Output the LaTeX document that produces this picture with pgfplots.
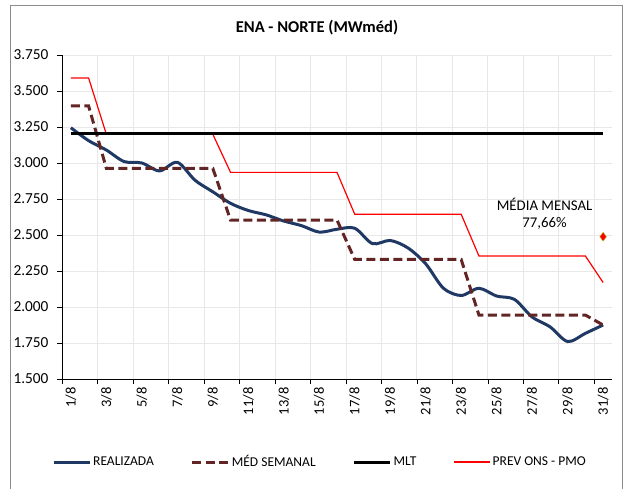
\documentclass[border=0pt]{standalone}
\usepackage{fontspec}
\setmainfont{Carlito}
\usepackage{pgfplots}
\pgfplotsset{compat=1.18}
\definecolor{realblue}{HTML}{1F3864}
\definecolor{medbrown}{HTML}{632523}
\definecolor{gridgray}{HTML}{E8E8E8}
\definecolor{bordergray}{HTML}{8C8C8C}
\begin{document}
\begin{tikzpicture}[x=1pt,y=1pt]
\begin{axis}[
  at={(0pt,0pt)}, anchor=south west,
  scale only axis, width=550pt, height=324pt,
  xmin=0.5, xmax=31.5, ymin=1500, ymax=3750,
  axis lines*=left,
  axis line style={black, line width=0.8pt},
  clip=false,
  xtick={1,3,...,31},
  xticklabels={1/8,3/8,5/8,7/8,9/8,11/8,13/8,15/8,17/8,19/8,21/8,23/8,25/8,27/8,29/8,31/8},
  major x tick style={draw=none},
  minor xtick={0.5,2.5,...,30.5},
  minor x tick style={black, line width=0.6pt},
  xminorgrids,
  ytick={1500,1750,...,3750},
  ymajorgrids,
  tick align=outside,
  major tick length=5pt, minor tick length=5pt,
  y tick style={black, line width=0.6pt},
  grid style={gridgray, line width=0.7pt},
  minor grid style={gridgray, line width=0.7pt},
  scaled y ticks=false,
  ticklabel style={font=\fontsize{14.5}{17}\selectfont},
  xticklabel style={rotate=90, anchor=east},
  yticklabel style={font=\fontsize{15.3}{18}\selectfont, xshift=-5pt, /pgf/number format/fixed, /pgf/number format/precision=0, /pgf/number format/1000 sep={.}, /pgf/number format/assume math mode=true},
  legend columns=4,
  legend style={at={(-10pt,-83pt)}, anchor=west, draw=none, fill=none, inner sep=0pt,
    font=\fontsize{13.5}{16}\selectfont,
    /tikz/every even column/.append style={column sep=35pt}},
  legend cell align=left,
  legend image code/.code={\draw[#1] (0pt,0pt) -- (36pt,0pt);},
]
\addplot[realblue, line width=3pt, smooth, tension=0.5] coordinates {
(1,3245)(2,3155)(3,3090)(4,3010)(5,3000)(6,2945)(7,3005)(8,2880)(9,2800)(10,2720)
(11,2670)(12,2640)(13,2597)(14,2565)(15,2520)(16,2540)(17,2547)(18,2440)(19,2462)(20,2410)
(21,2300)(22,2130)(23,2080)(24,2130)(25,2076)(26,2053)(27,1930)(28,1863)(29,1760)(30,1817)(31,1875)};
\addlegendentry{REALIZADA}
\addplot[medbrown, line width=3pt, dash pattern=on 9pt off 4.5pt] coordinates {
(1,3396)(2,3396)(3,2963)(4,2963)(5,2963)(6,2963)(7,2963)(8,2963)(9,2963)(10,2604)
(11,2604)(12,2604)(13,2604)(14,2604)(15,2604)(16,2604)(17,2330)(18,2330)(19,2330)(20,2330)
(21,2330)(22,2330)(23,2330)(24,1944)(25,1944)(26,1944)(27,1944)(28,1944)(29,1944)(30,1944)(31,1875)};
\addlegendentry{MÉD SEMANAL}
\addplot[red, line width=1.2pt, forget plot] coordinates {
(1,3590)(2,3590)(3,3200)(4,3200)(5,3200)(6,3200)(7,3200)(8,3200)(9,3200)(10,2935)
(11,2935)(12,2935)(13,2935)(14,2935)(15,2935)(16,2935)(17,2644)(18,2644)(19,2644)(20,2644)
(21,2644)(22,2644)(23,2644)(24,2354)(25,2354)(26,2354)(27,2354)(28,2354)(29,2354)(30,2354)(31,2170)};
\addplot[black, line width=3pt] coordinates {(1,3207)(31,3207)};
\addlegendentry{MLT}
\addlegendimage{red, line width=1.2pt}
\addlegendentry{PREV ONS - PMO}
\addplot[only marks, mark=diamond*, mark size=4.5pt, mark options={fill=red, draw=yellow!60!green, line width=0.3pt}, forget plot] coordinates {(31,2488)};
\node[align=center, font=\fontsize{14.8}{17}\selectfont] at (axis cs:27.7,2646) {MÉDIA MENSAL\\77,66\%};
\end{axis}
\node[font=\bfseries\fontsize{16.5}{19}\selectfont] at (255pt,351pt) {ENA - NORTE (MWméd)};
\draw[bordergray, line width=1pt] (-51pt,-130pt) -- (-51pt,373pt) -- (560pt,373pt) -- (560pt,-130pt);
\pgfresetboundingbox
\path[use as bounding box] (-62pt,-110pt) rectangle (561pt,379pt);
\end{tikzpicture}
\end{document}
